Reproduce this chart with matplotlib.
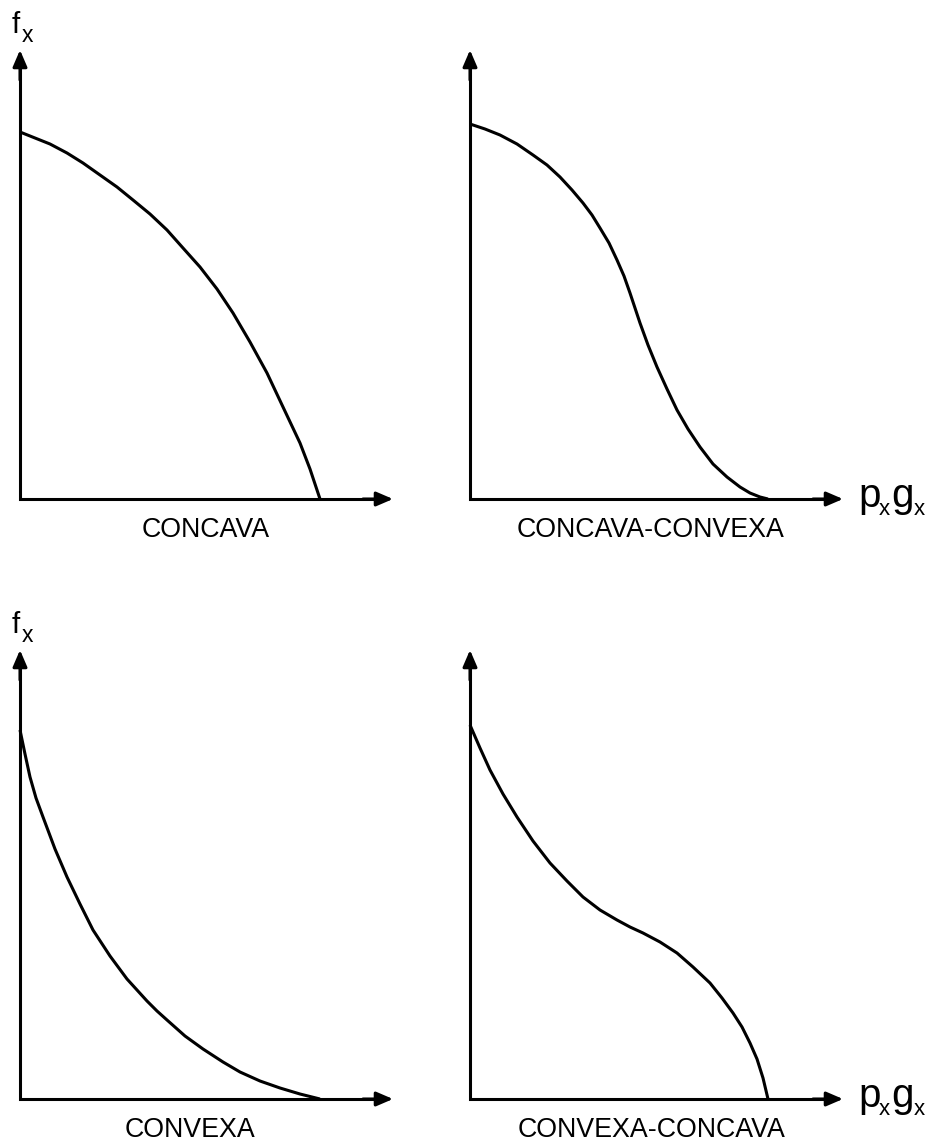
"""Four production-possibility style sketches: concave, convex and the two mixed shapes."""

import matplotlib

matplotlib.use("Agg")
import matplotlib.pyplot as plt

plt.rcParams["font.family"] = ["Liberation Sans", "DejaVu Sans"]

W_PX, H_PX = 930, 1145
DPI = 100

# curve samples in panel pixel units (x right, y up from origin)
concava_x = [0, 15, 30, 47, 63, 80, 97, 113, 130, 147, 163, 180, 197, 213, 230,
             247, 263, 280, 290, 300]
concava_y = [367, 361, 355, 346, 336, 324, 312, 299, 285, 269, 251, 232, 210, 186,
             157, 126, 92, 56, 30, 0]

conc_conv_x = [0, 15, 30, 47, 63, 77, 90, 102, 113, 122, 130, 139, 147, 154, 160,
               165, 170, 178, 187, 197, 207, 218, 230, 243, 257, 270, 280, 290, 298]
conc_conv_y = [375, 370, 364, 355, 344, 334, 322, 309, 296, 284, 271, 256, 239, 223,
               206, 191, 176, 154, 132, 110, 89, 70, 52, 35, 22, 12, 6, 2, 0]

convexa_x = [0, 5, 10, 16, 23, 35, 47, 60, 73, 90, 107, 117, 127, 137, 147, 165,
             183, 203, 220, 240, 260, 280, 300]
convexa_y = [369, 345, 322, 301, 282, 250, 222, 195, 169, 143, 120, 109, 98, 88, 79,
             63, 50, 37, 27, 18, 11, 5, 0]

conv_conc_x = [0, 10, 20, 33, 47, 63, 80, 97, 113, 130, 147, 160, 173, 190, 207,
               223, 240, 252, 263, 272, 280, 287, 293, 298]
conv_conc_y = [374, 351, 329, 305, 282, 258, 236, 218, 202, 189, 179, 172, 166, 157,
               146, 132, 116, 101, 86, 72, 56, 40, 21, 0]

names = ["CONCAVA", "CONCAVA-CONVEXA", "CONVEXA", "CONVEXA-CONCAVA"]

# panel origins in picture pixels and extent of the arrowed axes
ORIGINS = [(20, 499), (470, 499), (20, 1099), (470, 1099)]
AX_W, AX_H = 373, 449
LABEL_POS = [(206, 537), (651, 537), (190, 1137), (652, 1137)]

LW = 2.2


def fx(px):
    return px / W_PX


def fy(py):
    return 1 - py / H_PX


fig = plt.figure(figsize=(W_PX / DPI, H_PX / DPI), dpi=DPI)

curves = [
    (concava_x, concava_y),
    (conc_conv_x, conc_conv_y),
    (convexa_x, convexa_y),
    (conv_conc_x, conv_conc_y),
]

for (ox, oy), (xs, ys), name, (lx, ly) in zip(ORIGINS, curves, names, LABEL_POS):
    ax = fig.add_axes([fx(ox), fy(oy), AX_W / W_PX, AX_H / H_PX])
    ax.set_xlim(0, AX_W)
    ax.set_ylim(0, AX_H)
    ax.axis("off")

    ax.plot([0, 0, AX_W - 8], [AX_H - 8, 0, 0], color="black", lw=LW,
            solid_joinstyle="miter", solid_capstyle="projecting", clip_on=False)
    head = dict(arrowstyle="-|>,head_length=10,head_width=4.3", mutation_scale=1,
                color="black", lw=LW, shrinkA=0, shrinkB=0)
    ax.annotate("", xy=(0, AX_H), xytext=(0, AX_H - 30), arrowprops=head,
                annotation_clip=False)
    ax.annotate("", xy=(AX_W, 0), xytext=(AX_W - 30, 0), arrowprops=head,
                annotation_clip=False)

    ax.plot(xs, ys, color="black", lw=LW, solid_joinstyle="round",
            solid_capstyle="butt", clip_on=False)

    fig.text(fx(lx), fy(ly), name, ha="center", va="baseline", fontsize=19.3)

# axis names: f_x on the left panels, p_x g_x on the right panels
for dy in (0, 600):
    fig.text(fx(12), fy(33 + dy), "f", ha="left", va="baseline", fontsize=21.5)
    fig.text(fx(22), fy(42 + dy), "x", ha="left", va="baseline", fontsize=16.5)

    fig.text(fx(858), fy(507 + dy), "p", ha="left", va="baseline", fontsize=29)
    fig.text(fx(879), fy(515 + dy), "x", ha="left", va="baseline", fontsize=16)
    fig.text(fx(891), fy(507 + dy), "g", ha="left", va="baseline", fontsize=29)
    fig.text(fx(914), fy(515 + dy), "x", ha="left", va="baseline", fontsize=16)

fig.savefig("out.png", dpi=DPI, facecolor="white")
